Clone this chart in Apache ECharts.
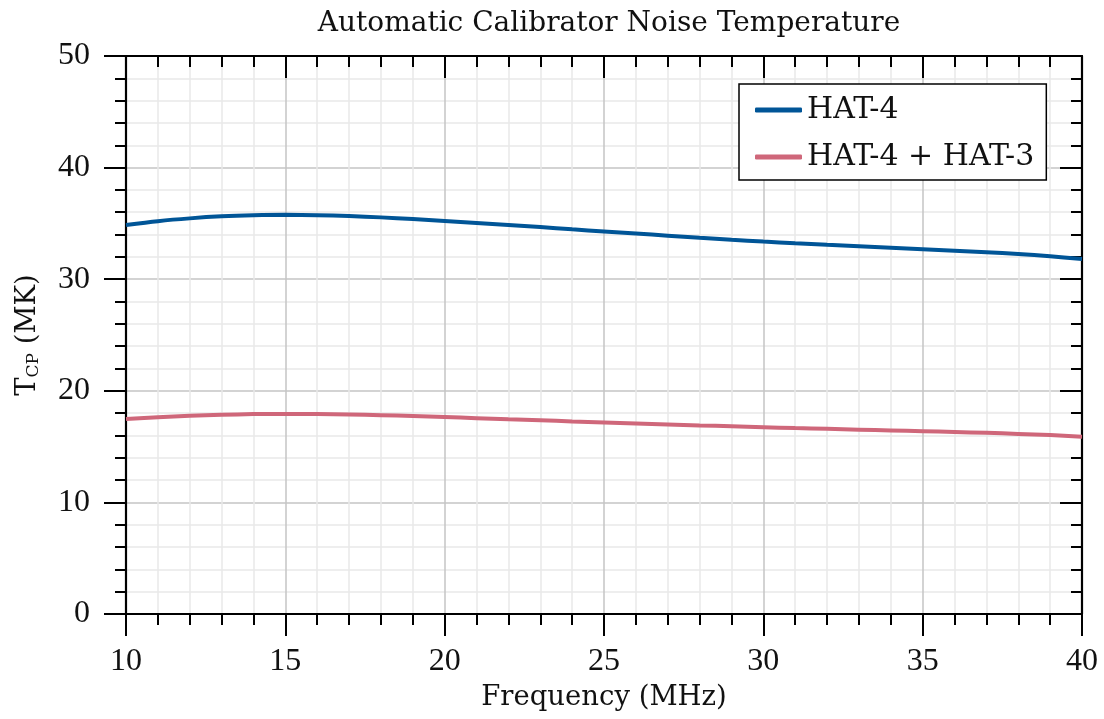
<!DOCTYPE html>
<html>
<head>
<meta charset="utf-8">
<script src="https://cdn.jsdelivr.net/npm/echarts@6/dist/echarts.min.js"></script>
<style>html,body{margin:0;padding:0;background:#fff}#c{width:1104px;height:719px}</style>
</head>
<body>
<div id="c"></div>
<script>
const freq = [10,11,12,13,14,15,16,17,18,19,20,21,22,23,24,25,26,27,28,29,30,31,32,33,34,35,36,37,38,39,40];
const hat4 = [34.86,35.2,35.45,35.63,35.73,35.77,35.74,35.66,35.54,35.39,35.22,35.04,34.86,34.67,34.47,34.28,34.09,33.9,33.71,33.53,33.37,33.22,33.08,32.95,32.82,32.69,32.56,32.42,32.26,32.06,31.8];
const hat43 = [17.47,17.63,17.76,17.85,17.91,17.93,17.92,17.88,17.82,17.74,17.65,17.55,17.45,17.36,17.26,17.17,17.08,16.99,16.9,16.82,16.74,16.66,16.59,16.52,16.45,16.38,16.31,16.23,16.14,16.03,15.89];
const seriesNames = ['HAT-4', 'HAT-4 + HAT-3'];
const xTicks = [10,15,20,25,30,35,40];
const yTicks = [0,10,20,30,40,50];

const FONT = 'DejaVu Serif';
const NUMFONT = 'Liberation Serif';
const chart = echarts.init(document.getElementById('c'), null, {renderer:'canvas'});
const axisLineStyle = {color:'#000', width:2.2};
function xAxisBase(pos, main){
  return {
    type:'value', position:pos, min:xTicks[0], max:xTicks[xTicks.length-1], interval:5,
    axisLine:{show:true, onZero:false, lineStyle:axisLineStyle},
    axisTick:{show:true, inside:!main, length:22, lineStyle:{color:'#000', width:2}},
    minorTick:{show:true, splitNumber:5, length:11, lineStyle:{color:'#000', width:2}},
    axisLabel:{show:main, margin:32, fontFamily:NUMFONT, fontSize:32, color:'#111'},
    splitLine:{show:main, lineStyle:{color:'#c4c4c4', width:1.5}},
    minorSplitLine:{show:main, lineStyle:{color:'#e9e9e9', width:1.5}},
    name: main ? 'Frequency (MHz)' : '', nameLocation:'middle', nameGap:70,
    nameTextStyle:{fontFamily:FONT, fontSize:27.5, color:'#111'}
  };
}
function yAxisBase(pos, main){
  return {
    type:'value', position:pos, min:yTicks[0], max:yTicks[yTicks.length-1], interval:10,
    axisLine:{show:true, onZero:false, lineStyle:axisLineStyle},
    axisTick:{show:true, inside:!main, length:22, lineStyle:{color:'#000', width:2}},
    minorTick:{show:true, splitNumber:5, length:11, lineStyle:{color:'#000', width:2}},
    axisLabel:{show:main, margin:36, fontFamily:NUMFONT, fontSize:32, color:'#111'},
    splitLine:{show:main, lineStyle:{color:'#c4c4c4', width:1.5}},
    minorSplitLine:{show:main, lineStyle:{color:'#e9e9e9', width:1.5}},
    name: main ? 'T{sub|CP} (MK)' : '', nameLocation:'middle', nameGap:84,
    nameTextStyle:{fontFamily:FONT, fontSize:27.5, color:'#111',
      rich:{sub:{fontFamily:FONT, fontSize:17, color:'#111', verticalAlign:'bottom', padding:[12,0,0,0]}}}
  };
}
chart.setOption({
  animation:false,
  backgroundColor:'#fff',
  title:{text:'Automatic Calibrator Noise Temperature', left:604, textAlign:'center', top:5,
    textStyle:{fontFamily:FONT, fontSize:28, fontWeight:'normal', color:'#111'}},
  grid:{left:126, right:22, top:56, bottom:105, containLabel:false},
  legend:{
    orient:'vertical', left:739, top:84, data:seriesNames,
    backgroundColor:'#fff', borderColor:'#000', borderWidth:1.5, borderRadius:0,
    padding:[11,12,8,16], itemGap:17, itemWidth:47, itemHeight:5, icon:'roundRect',
    textStyle:{fontFamily:FONT, fontSize:30, color:'#111', lineHeight:30}
  },
  xAxis:[xAxisBase('bottom', true), xAxisBase('top', false)],
  yAxis:[yAxisBase('left', true), yAxisBase('right', false)],
  series:[
    {name:seriesNames[0], type:'line', xAxisIndex:0, yAxisIndex:0, smooth:0.3, showSymbol:false,
     lineStyle:{color:'#005597', width:4}, itemStyle:{color:'#005597'},
     data:freq.map((f,i)=>[f,hat4[i]])},
    {name:seriesNames[1], type:'line', xAxisIndex:0, yAxisIndex:0, smooth:0.3, showSymbol:false,
     lineStyle:{color:'#cf677a', width:4}, itemStyle:{color:'#cf677a'},
     data:freq.map((f,i)=>[f,hat43[i]])}
  ]
});
</script>
</body>
</html>
